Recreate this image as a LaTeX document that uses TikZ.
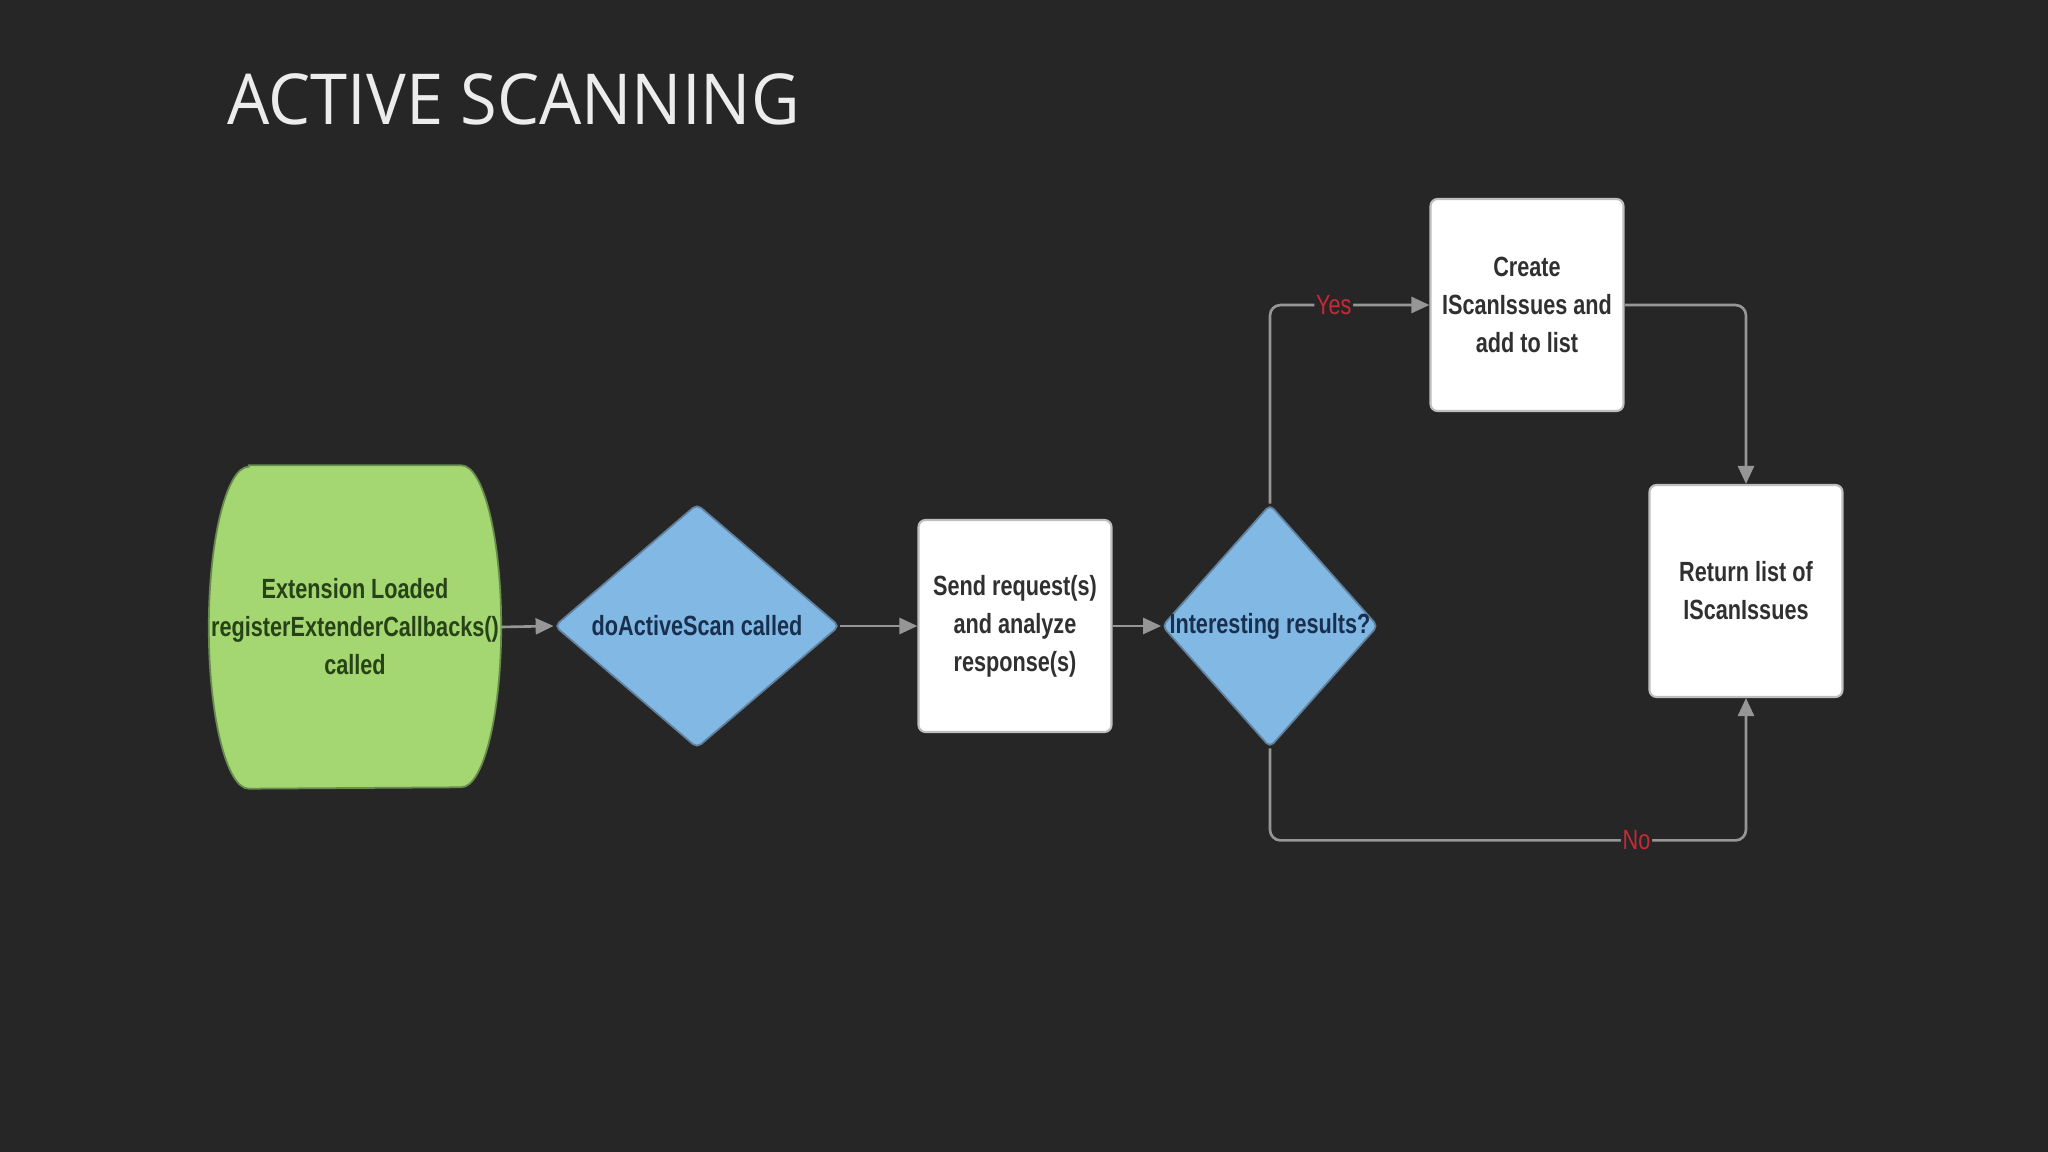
\documentclass[tikz,border=0pt]{standalone}
\usepackage{fontspec}
\usepackage{xcolor}
\usepackage{tikz}
\usetikzlibrary{arrows.meta,shapes.geometric,backgrounds}
\newfontfamily\chartfont{Liberation Sans}[FakeStretch=0.78]
\newfontfamily\titlefont{Open Sans}[FakeStretch=0.95]
\definecolor{slidebg}    {RGB}{38,38,38}
\definecolor{startfill}  {RGB}{164,214,114}
\definecolor{startdraw}  {RGB}{104,140,78}
\definecolor{starttext}  {RGB}{38,66,22}
\definecolor{decfill}    {RGB}{130,184,228}
\definecolor{decdraw}    {RGB}{96,128,158}
\definecolor{dectext}    {RGB}{24,48,78}
\definecolor{boxdraw}    {RGB}{190,190,190}
\definecolor{boxtext}    {RGB}{48,48,48}
\definecolor{flowgray}   {RGB}{150,150,150}
\definecolor{answerred}  {RGB}{200,40,56}
\definecolor{titlewhite} {RGB}{236,236,236}
\newcommand{\chartsize}{\fontsize{7.9}{10.8}\selectfont\bfseries}

\begin{document}
\begin{tikzpicture}[
  >=Stealth,
  startbox/.style={minimum width=2.91cm,minimum height=3.22cm,inner sep=0pt,
                   align=center,text=starttext,font=\chartfont\chartsize},
  startshape/.style={fill=startfill,draw=startdraw,line width=0.5pt},
  decision/.style={diamond,draw=decdraw,fill=decfill,line width=0.5pt,
                   inner sep=0pt,rounded corners=1.5pt,
                   text=dectext,font=\chartfont\chartsize},
  procbox/.style={draw=boxdraw,fill=white,line width=0.6pt,rounded corners=2pt,
                  minimum width=1.93cm,minimum height=2.12cm,inner sep=0pt,
                  align=center,text=boxtext,font=\chartfont\chartsize},
  flow/.style={-{Triangle[length=0.18cm,width=0.16cm]},draw=flowgray,
               line width=0.75pt,rounded corners=3pt},
  answer/.style={fill=slidebg,inner sep=0.5pt,text=answerred,
                 font=\chartfont\fontsize{7.9}{10.8}\selectfont},
]

\useasboundingbox (0,0) rectangle (20.48,-11.52);

%% ── Title ───────────────────────────────────────────────────────────────────
\node[anchor=base west,inner sep=0pt,text=titlewhite,
      font=\titlefont\fontsize{20}{24}\selectfont] (title) at (2.27,-1.25)
  {ACTIVE SCANNING};

%% ── Main row ────────────────────────────────────────────────────────────────
\node[startbox] (start) at (3.55,-6.27)
  {Extension Loaded\\registerExtenderCallbacks()\\called};

\node[decision,minimum width=2.85cm,minimum height=2.44cm] (scan) at (6.97,-6.26)
  {\makebox[0pt]{doActiveScan called}};

\node[procbox] (send) at (10.15,-6.26)
  {Send request(s)\\and analyze\\response(s)};

\node[decision,minimum width=2.16cm,minimum height=2.43cm] (check) at (12.70,-6.26)
  {\makebox[0pt]{Interesting results?}};

%% ── Right column ────────────────────────────────────────────────────────────
\node[procbox] (create) at (15.27,-3.05)
  {Create\\IScanIssues and\\add to list};

\node[procbox] (result) at (17.46,-5.91)
  {Return list of\\IScanIssues};

%% ── Terminator outline (sides are half ellipses) ───────────────────────────
\begin{scope}[on background layer]
  \fill[slidebg] (0,0) rectangle (20.48,-11.52);
  \path[startshape]
    ([xshift=0.4cm]start.north west) -- ([xshift=-0.4cm]start.north east)
    arc[start angle=90,end angle=-90,x radius=0.4cm,y radius=1.61cm]
    -- ([xshift=0.4cm]start.south west)
    arc[start angle=270,end angle=90,x radius=0.4cm,y radius=1.61cm]
    -- cycle;
\end{scope}

%% ── Connectors ──────────────────────────────────────────────────────────────
\draw[flow] (start.east) -- (scan.west);
\draw[flow] (scan.east) -- (send.west);
\draw[flow] (send.east) -- (check.west);

\draw[flow] (check.north) |- node[answer,pos=0.70]{Yes} (create.west);
\draw[flow] (create.east) -| (result.north);
\draw[flow] (check.south) -- ++(0,-0.92) -| node[answer,pos=0.385]{No} (result.south);

\end{tikzpicture}
\end{document}
